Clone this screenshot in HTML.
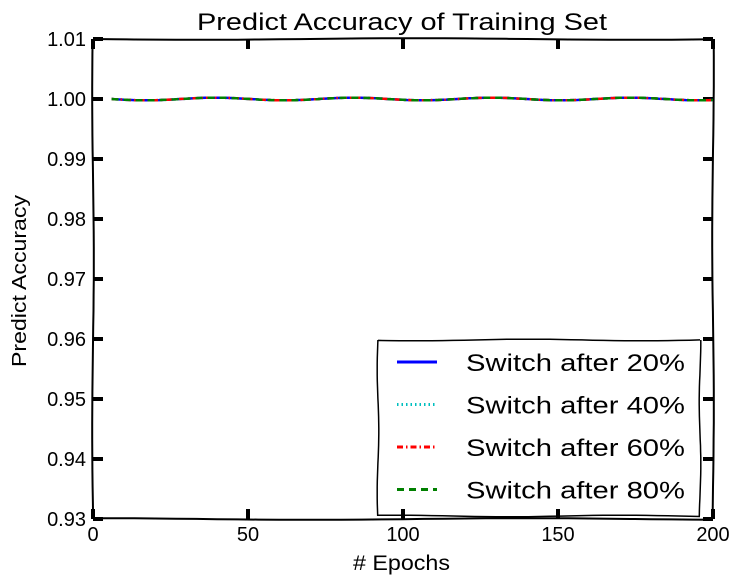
<!DOCTYPE html>
<html><head><meta charset="utf-8"><style>
body{margin:0;background:#fff;}
svg{display:block;font-family:"Liberation Sans",sans-serif;}
</style></head><body>
<svg id="chart" width="742" height="586">
<text x="197" y="30" font-size="24" textLength="410" lengthAdjust="spacingAndGlyphs">Predict Accuracy of Training Set</text>
<text x="353" y="570" font-size="21" textLength="97" lengthAdjust="spacingAndGlyphs"># Epochs</text>
<text transform="translate(26,367) rotate(-90)" font-size="20" textLength="172" lengthAdjust="spacingAndGlyphs">Predict Accuracy</text>
<g id="axes"></g><g id="series"></g><g id="legend"></g>
</svg>
<script>
const epochs=[6,10,15,20,25,30,35,40,45,50,55,60,65,70,75,80,85,90,95,100,105,110,115,120,125,130,135,140,145,150,155,160,165,170,175,180,185,190,195,200];
const acc20=[1,1,1,1,1,1,1,1,1,1,1,1,1,1,1,1,1,1,1,1,1,1,1,1,1,1,1,1,1,1,1,1,1,1,1,1,1,1,1,1];
const acc40=[1,1,1,1,1,1,1,1,1,1,1,1,1,1,1,1,1,1,1,1,1,1,1,1,1,1,1,1,1,1,1,1,1,1,1,1,1,1,1,1];
const acc60=[1,1,1,1,1,1,1,1,1,1,1,1,1,1,1,1,1,1,1,1,1,1,1,1,1,1,1,1,1,1,1,1,1,1,1,1,1,1,1,1];
const acc80=[1,1,1,1,1,1,1,1,1,1,1,1,1,1,1,1,1,1,1,1,1,1,1,1,1,1,1,1,1,1,1,1,1,1,1,1,1,1,1,1];
const xTicks=[0,50,100,150,200];
const yTicks=[0.93,0.94,0.95,0.96,0.97,0.98,0.99,1.00,1.01];
const seriesNames=["Switch after 20%","Switch after 40%","Switch after 60%","Switch after 80%"];
const L=93,R=713,T=39,B=519;
const xs=v=>L+(v-0)/(200-0)*(R-L);
const ys=v=>B-(v-0.93)/(1.01-0.93)*(B-T);
const NS="http://www.w3.org/2000/svg";
function mk(t,a,p){const e=document.createElementNS(NS,t);for(const k in a)e.setAttribute(k,a[k]);p.appendChild(e);return e;}
const ax=document.getElementById('axes');
function wob(x1,y1,x2,y2,amp,ph){let d='';const n=30;for(let i=0;i<=n;i++){const t=i/n;const x=x1+(x2-x1)*t,y=y1+(y2-y1)*t;const w=amp*Math.sin(t*9+ph);const dx=(y2-y1)?w:0,dy=(x2-x1)?w:0;d+=(i?'L':'M')+(x+dx).toFixed(1)+','+(y+dy).toFixed(1);}return d;}
const frame=mk('path',{d:wob(L,T,R,T,0.8,0)+wob(R,T,R,B,0.8,1)+wob(R,B,L,B,0.8,2)+wob(L,B,L,T,0.8,3),fill:'none',stroke:'#000','stroke-width':2},ax);

xTicks.forEach(v=>{const x=xs(v);
 mk('line',{x1:x,y1:B-10,x2:x,y2:B,stroke:'#000','stroke-width':4},ax);
 mk('line',{x1:x,y1:T,x2:x,y2:T+10,stroke:'#000','stroke-width':4},ax);
 const t=mk('text',{x:x,y:B+22,'font-size':20,'text-anchor':'middle'},ax);t.textContent=v;
 });
yTicks.forEach(v=>{const y=ys(v);
 mk('line',{x1:L,y1:y,x2:L+10,y2:y,stroke:'#000','stroke-width':4},ax);
 mk('line',{x1:R-10,y1:y,x2:R,y2:y,stroke:'#000','stroke-width':4},ax);
 const t=mk('text',{x:L-7,y:y+7,'font-size':20,'text-anchor':'end'},ax);t.textContent=v.toFixed(2);
 });
const sg=document.getElementById('series');
const styles=[{c:'#0000ff',da:'',w:2.5},{c:'#00bfbf',da:'1.5,3',w:2.5},{c:'#ff0000',da:'6,3,1.5,3',w:2.5},{c:'#008000',da:'7,5',w:2.5}];
[acc20,acc40,acc60,acc80].forEach((s,i)=>{let d='';
 const x0=xs(epochs[0]),x1=xs(epochs[epochs.length-1]);
 for(let k=0;k<epochs.length-1;k++){for(let j=0;j<4;j++){const e=epochs[k]+(epochs[k+1]-epochs[k])*j/4;const v=s[k]+(s[k+1]-s[k])*j/4;const x=xs(e);d+=(d?'L':'M')+x.toFixed(1)+','+(ys(v)+1.3*Math.sin((x-x0)/22)).toFixed(1);}}
 d+='L'+x1.toFixed(1)+','+(ys(s[s.length-1])+1.3*Math.sin((x1-x0)/22)).toFixed(1);
 const p=mk('path',{d:d,fill:'none',stroke:styles[i].c,'stroke-width':styles[i].w,'stroke-dasharray':styles[i].da},sg);
 });
const lg=document.getElementById('legend');
const box=mk('path',{d:wob(378,340,700,340,0.8,0.5)+wob(700,340,700,516,0.8,1.5)+wob(700,516,378,516,0.8,2.5)+wob(378,516,378,340,0.8,3.5),fill:'#fff',stroke:'#000','stroke-width':1.5},lg);

seriesNames.forEach((n,i)=>{const y=362+i*42.5;
 const l=mk('line',{x1:397,y1:y,x2:437,y2:y,stroke:styles[i].c,'stroke-width':3,'stroke-dasharray':styles[i].da},lg);
 
 const t=mk('text',{x:466,y:y+9,'font-size':24,textLength:219,lengthAdjust:'spacingAndGlyphs'},lg);t.textContent=n;
 });
</script>
</body></html>
